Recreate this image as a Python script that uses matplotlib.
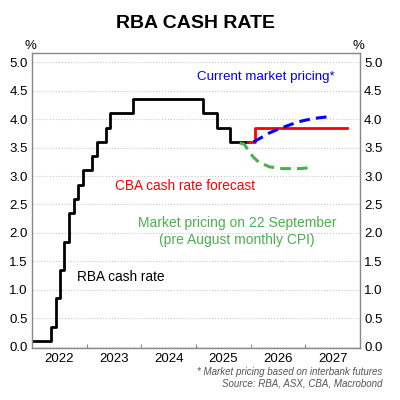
import matplotlib
matplotlib.use("Agg")
import matplotlib.pyplot as plt
import numpy as np

plt.rcParams['font.family'] = ['Liberation Sans', 'DejaVu Sans']

# RBA cash rate (step changes, decimal year of effect)
rba_dates = [2021.9, 2022.34, 2022.43, 2022.51, 2022.59, 2022.68, 2022.76, 2022.84, 2022.93,
             2023.10, 2023.18, 2023.35, 2023.43, 2023.85, 2025.13, 2025.38, 2025.62, 2025.95]
rba_rates = [0.10, 0.35, 0.85, 1.35, 1.85, 2.35, 2.60, 2.85, 3.10,
             3.35, 3.60, 3.85, 4.10, 4.35, 4.10, 3.85, 3.60, 3.60]

# CBA forecast
cba_dates = [2025.95, 2026.08, 2027.77]
cba_rates = [3.60, 3.85, 3.85]

# current market pricing
mkt_dates = [2026.05, 2026.15, 2026.35, 2026.55, 2026.75, 2026.95, 2027.15, 2027.41]
mkt_rates = [3.60, 3.65, 3.76, 3.84, 3.91, 3.97, 4.01, 4.04]

# market pricing on 22 September
sep_dates = [2025.80, 2025.88, 2025.95, 2026.04, 2026.15, 2026.35, 2026.59, 2026.90, 2027.14]
sep_rates = [3.58, 3.56, 3.46, 3.34, 3.24, 3.16, 3.13, 3.13, 3.15]

years = [2022, 2023, 2024, 2025, 2026, 2027]
yticks = np.arange(0, 5.01, 0.5)

fig = plt.figure(figsize=(4, 4), dpi=100)
ax = fig.add_axes([0.08, 0.13, 0.82, 0.7375])

ax.step(rba_dates, rba_rates, where='post', color='black', lw=2)
ax.step(cba_dates, cba_rates, where='post', color='#ff0000', lw=2)
ax.plot(mkt_dates, mkt_rates, color='#0000ff', lw=2.2, ls=(0, (3.5, 2)))
ax.plot(sep_dates, sep_rates, color='#4caf50', lw=2.2, ls=(0, (3.5, 2)))

ax.set_xlim(2022, 2028)
ax.set_ylim(-0.02, 5.16)

ax.set_yticks(yticks)
ax.set_yticklabels([f"{v:.1f}" for v in yticks])
ax.yaxis.grid(True, ls=':', color='#c8c8c8', lw=0.8)
ax.tick_params(axis='y', length=0, labelsize=9.5, pad=3, right=True, labelright=True)

ax.set_xticks(years[1:])
ax.set_xticklabels([])
ax.set_xticks([y + 0.5 for y in years], minor=True)
ax.set_xticklabels([str(y) for y in years], minor=True)
ax.tick_params(axis='x', which='major', direction='in', length=3, color='#888888')
ax.tick_params(axis='x', which='minor', length=0, labelsize=9.5, pad=3.5)

for s in ax.spines.values():
    s.set_color('#888888')
    s.set_linewidth(1)

fig.text(0.075, 0.885, '%', fontsize=9.5, ha='center', va='center')
fig.text(0.895, 0.885, '%', fontsize=9.5, ha='center', va='center')
fig.text(0.49, 0.94, 'RBA CASH RATE', fontsize=14, fontweight='bold', ha='center', va='center')

ax.text(2025.02, 4.74, 'Current market pricing*', color='#0000ff', fontsize=9.6, va='center')
ax.text(2023.52, 2.83, 'CBA cash rate forecast', color='#ff0000', fontsize=9.8, va='center')
ax.text(2025.75, 2.02, 'Market pricing on 22 September\n(pre August monthly CPI)',
        color='#4caf50', fontsize=10, ha='center', va='center', linespacing=1.3)
ax.text(2022.83, 1.22, 'RBA cash rate', color='black', fontsize=9.8, va='center')

fig.text(0.955, 0.069, '* Market pricing based on interbank futures', fontsize=7,
         style='italic', color='#555555', ha='right', va='center')
fig.text(0.955, 0.041, 'Source: RBA, ASX, CBA, Macrobond', fontsize=7,
         style='italic', color='#555555', ha='right', va='center')

fig.savefig('out.png', dpi=100)
